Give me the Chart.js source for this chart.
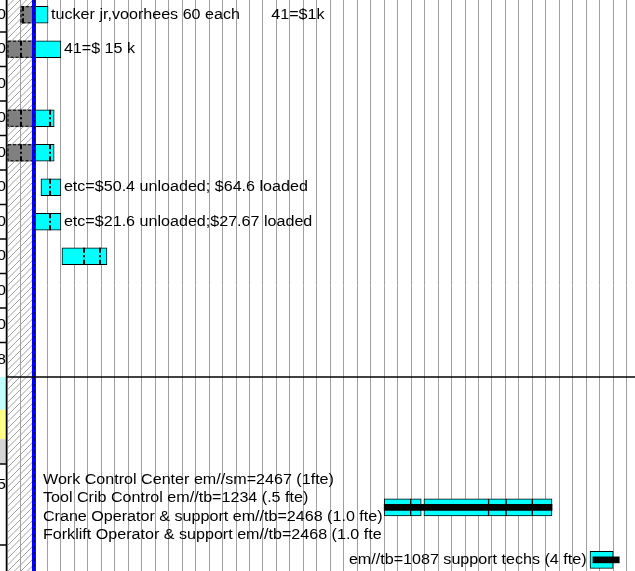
<!DOCTYPE html>
<html>
<head>
<meta charset="utf-8">
<script src="https://cdn.jsdelivr.net/npm/chart.js@4/dist/chart.umd.min.js"></script>
<style>
  html, body { margin: 0; padding: 0; background: #fff; }
  canvas { display: block; }
</style>
</head>
<body>
<canvas id="gantt" width="635" height="571"></canvas>
<script>
// rows count down from the top of the sheet, times are working days
// from the first day column of the timescale
var actualRows = [0, 1, 3, 4];
var actualSpans = [[1.0, 1.95], [0, 1.95], [0, 1.95], [0, 1.95]];

var taskRows = [0, 1, 3, 4, 5, 6, 7, 14.28, 14.28, 14.28, 14.28, 14.28, 14.28, 15.8];
var taskSpans = [[2.0, 3.05], [2.0, 4.0], [2.0, 3.5], [2.0, 3.5], [2.52, 4.0], [2.0, 4.0], [4.08, 7.42],
    [28.0, 29.97], [29.97, 30.75], [30.95, 35.75], [35.75, 37.05], [37.05, 39.0], [39.0, 40.46],
    [43.28, 45.0]];

var progressRows = [14.28, 15.8];
var progressSpans = [[28.0, 40.46], [43.5, 45.45]];

// split marks drawn across the bars
var splitRows = [0, 1, 3, 4, 3, 4, 5, 6, 7, 7];
var splitDays = [1.17, 1.07, 1.07, 1.07, 3.2, 3.2, 3.2, 3.2, 5.74, 6.9];

// notes printed right of a task bar (index into taskSpans)
var noteTasks = [0, 1, 4, 5];
var noteTexts = ['tucker jr,voorhees 60 each       41=$1k', '41=$ 15 k',
    'etc=$50.4 unloaded; $64.6 loaded', 'etc=$21.6 unloaded;$27.67 loaded'];

var blockRow = 14.28;
var blockDay = 2.67;
var blockLines = ['Work Control Center em//sm=2467 (1fte)', 'Tool Crib Control em//tb=1234 (.5 fte)',
    'Crane Operator & support em//tb=2468 (1.0 fte)', 'Forklift Operator & support em//tb=2468 (1.0 fte'];

var sideTask = 13;
var sideText = 'em//tb=1087 support techs (4 fte)';

var nonWorking = [0, 2];
var statusDay = 2.0;
var dayTicks = [];
for (var d = 0; d <= 46; d++) dayTicks.push(d);

// right edge of the task table columns
var tableRows = [0, 1, 2, 3, 4, 5, 6, 7, 8, 9, 10, 13.63];
var tableDigits = ['0', '0', '0', '0', '0', '0', '0', '0', '0', '0', '8', '5'];

var FONT = '14px "Liberation Sans", Arial, sans-serif';
var STRETCH = 1.15;
var LINE_H = 18.5;

function wideText(ctx, text, x, y, align) {
    ctx.save();
    ctx.translate(x, y);
    ctx.scale(STRETCH, 1);
    ctx.font = FONT;
    ctx.fillStyle = '#000';
    ctx.textAlign = align;
    ctx.textBaseline = 'middle';
    ctx.fillText(text, 0, 0);
    ctx.restore();
}

function toPoints(rows, spans) {
    return rows.map(function (r, i) {
        return { x: spans[i], y: r };
    });
}

var sheetPlugin = {
    id: 'sheet',
    beforeDatasetsDraw: function (chart) {
        var ctx = chart.ctx, xs = chart.scales.x, area = chart.chartArea;
        var left = xs.getPixelForValue(nonWorking[0]);
        var right = xs.getPixelForValue(nonWorking[1]);
        var w = right - left;
        ctx.save();
        ctx.beginPath();
        ctx.rect(left, area.top, w, area.bottom - area.top);
        ctx.clip();
        ctx.strokeStyle = '#a0a0a0';
        ctx.lineWidth = 1;
        ctx.beginPath();
        for (var y = area.top - w; y < area.bottom + w; y += 6.5) {
            ctx.moveTo(left, y + w);
            ctx.lineTo(right, y);
        }
        ctx.stroke();
        ctx.restore();
    },
    afterDatasetsDraw: function (chart) {
        var ctx = chart.ctx, xs = chart.scales.x, ys = chart.scales.y, area = chart.chartArea;
        var i;

        // dashed outline on the actual-work bars
        var meta = chart.getDatasetMeta(2);
        ctx.save();
        ctx.strokeStyle = '#000';
        ctx.lineWidth = 1;
        ctx.setLineDash([3, 2]);
        meta.data.forEach(function (el) {
            var x0 = Math.min(el.x, el.base), x1 = Math.max(el.x, el.base);
            ctx.strokeRect(x0 + 0.5, el.y - el.height / 2 + 0.5, x1 - x0 - 1, el.height - 1);
        });
        ctx.restore();

        // split marks
        ctx.save();
        ctx.strokeStyle = '#000';
        ctx.lineWidth = 2;
        ctx.setLineDash([5, 2.5, 2, 2.5]);
        for (i = 0; i < splitRows.length; i++) {
            var sx = Math.round(xs.getPixelForValue(splitDays[i]));
            var sy = ys.getPixelForValue(splitRows[i]);
            ctx.beginPath();
            ctx.moveTo(sx, sy - 8.5);
            ctx.lineTo(sx, sy + 8.5);
            ctx.stroke();
        }
        ctx.restore();

        // status date line
        var bx = xs.getPixelForValue(statusDay);
        ctx.save();
        ctx.fillStyle = '#0000ff';
        ctx.fillRect(bx - 2, area.top, 4, area.bottom - area.top);
        ctx.strokeStyle = '#000080';
        ctx.lineWidth = 1;
        ctx.setLineDash([3, 3]);
        ctx.beginPath();
        ctx.moveTo(bx + 0.5, area.top);
        ctx.lineTo(bx + 0.5, area.bottom);
        ctx.stroke();
        ctx.restore();

        // notes
        for (i = 0; i < noteTasks.length; i++) {
            var t = noteTasks[i];
            wideText(ctx, noteTexts[i], xs.getPixelForValue(taskSpans[t][1]) + 3,
                ys.getPixelForValue(taskRows[t]), 'left');
        }
        var by = ys.getPixelForValue(blockRow) - LINE_H * (blockLines.length - 1) / 2;
        for (i = 0; i < blockLines.length; i++) {
            wideText(ctx, blockLines[i], xs.getPixelForValue(blockDay), by + i * LINE_H, 'left');
        }
        wideText(ctx, sideText, xs.getPixelForValue(taskSpans[sideTask][0]) - 3.5,
            ys.getPixelForValue(taskRows[sideTask]), 'right');

        // row rule under the upper block
        ctx.save();
        ctx.strokeStyle = '#000';
        ctx.lineWidth = 1.5;
        ctx.beginPath();
        ctx.moveTo(area.left, ys.getPixelForValue(10.5));
        ctx.lineTo(area.right, ys.getPixelForValue(10.5));
        ctx.stroke();
        ctx.restore();

        // edge of the task table
        var edge = xs.getPixelForValue(0) - 0.5;
        ctx.save();
        ctx.fillStyle = '#fff';
        ctx.fillRect(0, area.top, edge, area.bottom - area.top);
        var bands = [[10.5, 11.45, '#c0ffff'], [11.45, 12.3, '#ffff88'], [12.3, 13.02, '#d4d4d4']];
        bands.forEach(function (b) {
            ctx.fillStyle = b[2];
            var y0 = ys.getPixelForValue(b[0]), y1 = ys.getPixelForValue(b[1]);
            ctx.fillRect(0, y0, edge, y1 - y0);
        });
        for (i = 0; i < tableRows.length; i++) {
            wideText(ctx, tableDigits[i], edge - 0.5, ys.getPixelForValue(tableRows[i]), 'right');
        }
        ctx.strokeStyle = '#000';
        ctx.lineWidth = 1.5;
        ctx.beginPath();
        [0.5, 1.5, 2.5, 3.5, 4.5, 5.5, 6.5, 7.5, 8.5, 9.5, 13.02, 15.37].forEach(function (r) {
            var ry = ys.getPixelForValue(r);
            ctx.moveTo(0, ry);
            ctx.lineTo(edge, ry);
        });
        ctx.moveTo(edge, area.top);
        ctx.lineTo(edge, area.bottom);
        ctx.stroke();
        ctx.restore();
    }
};

var ctx = document.getElementById('gantt').getContext('2d');
var chart = new Chart(ctx, {
    type: 'bar',
    data: {
        datasets: [
            {
                data: toPoints(progressRows, progressSpans),
                backgroundColor: '#000',
                borderWidth: 0,
                barThickness: 6,
                grouped: false,
                order: 0
            },
            {
                data: toPoints(taskRows, taskSpans),
                backgroundColor: '#00ffff',
                borderColor: '#000',
                borderWidth: 1,
                borderSkipped: false,
                barThickness: 17,
                grouped: false,
                order: 1
            },
            {
                data: toPoints(actualRows, actualSpans),
                backgroundColor: '#808080',
                borderWidth: 0,
                barThickness: 17,
                grouped: false,
                order: 2
            }
        ]
    },
    options: {
        indexAxis: 'y',
        responsive: false,
        animation: false,
        devicePixelRatio: 1,
        layout: { padding: 0 },
        plugins: {
            legend: { display: false },
            tooltip: { enabled: false }
        },
        scales: {
            x: {
                type: 'linear',
                min: -0.52,
                max: 46.62,
                afterBuildTicks: function (scale) {
                    scale.ticks = dayTicks.map(function (v) { return { value: v }; });
                },
                grid: { color: '#a0a0a0', lineWidth: 1, drawTicks: false },
                ticks: { display: false },
                border: { display: false }
            },
            y: {
                type: 'linear',
                reverse: true,
                offset: false,
                min: -0.4275,
                max: 16.123,
                display: false
            }
        }
    },
    plugins: [sheetPlugin]
});
</script>
</body>
</html>
